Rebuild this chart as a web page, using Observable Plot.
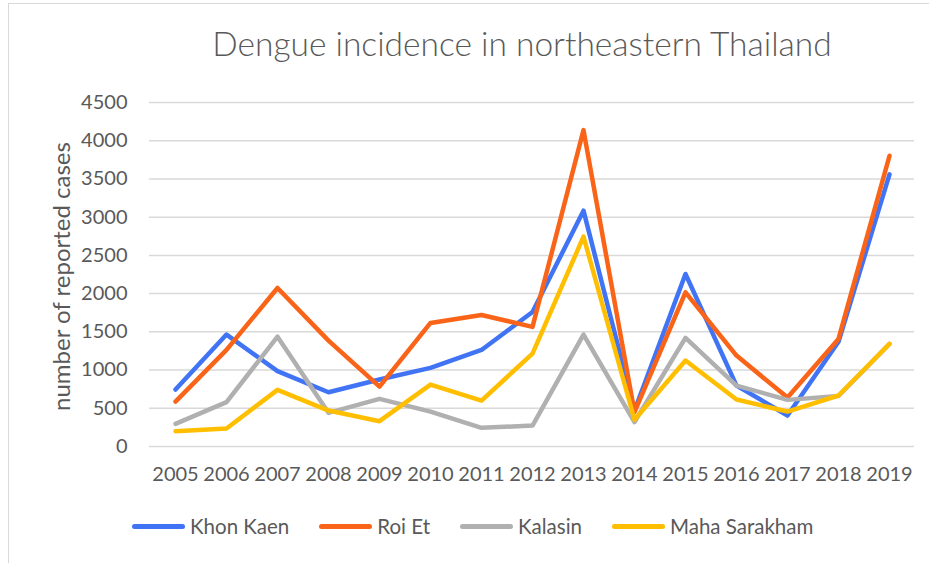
<!DOCTYPE html>
<html>
<head>
<meta charset="utf-8">
<script src="https://cdn.jsdelivr.net/npm/d3@7"></script>
<script src="https://cdn.jsdelivr.net/npm/@observablehq/plot@0.6"></script>
<style>
  html, body { margin: 0; padding: 0; background: #fff; }
  #chart { position: relative; width: 929px; height: 563px; overflow: hidden; font-family: Lato, "Open Sans", sans-serif; color: #595959; }
  #frame { position: absolute; left: 8px; top: 3px; width: 940px; height: 600px; border: 1px solid #d9d9d9; box-sizing: border-box; }
  #title { position: absolute; left: 0; width: 1044px; top: 23px; text-align: center; font-size: 33.5px; font-weight: 300; line-height: 40px; color: #595959; }
  #plot { position: absolute; left: 0; top: 80px; }
  #legend { position: absolute; left: 132px; top: 514px; display: flex; align-items: center; gap: 30px; font-size: 20.5px; color: #595959; }
  .item { display: flex; align-items: center; gap: 5px; }
  .sw { width: 53px; height: 5px; border-radius: 3px; }
</style>
</head>
<body>
<div id="chart">
  <div id="frame"></div>
  <div id="title">Dengue incidence in northeastern Thailand</div>
  <div id="plot"></div>
  <div id="legend"></div>
</div>
<script>
const years = [2005, 2006, 2007, 2008, 2009, 2010, 2011, 2012, 2013, 2014, 2015, 2016, 2017, 2018, 2019];
const seriesNames = ["Khon Kaen", "Roi Et", "Kalasin", "Maha Sarakham"];
const khonKaen     = [745, 1464, 985, 710, 876, 1028, 1263, 1760, 3085, 470, 2257, 797, 405, 1370, 3560];
const roiEt        = [588, 1264, 2074, 1385, 784, 1616, 1721, 1565, 4139, 450, 2017, 1189, 640, 1407, 3803];
const kalasin      = [296, 580, 1437, 440, 623, 457, 244, 274, 1464, 320, 1421, 797, 610, 660, 1342];
const mahaSarakham = [200, 235, 741, 470, 331, 810, 601, 1215, 2745, 350, 1124, 614, 457, 667, 1342];
const colors = ["#4174f5", "#fa6418", "#b0b0b0", "#ffbf00"];
const yTicks = [0, 500, 1000, 1500, 2000, 2500, 3000, 3500, 4000, 4500];
const yTitle = "number of reported cases";

const allSeries = [khonKaen, roiEt, kalasin, mahaSarakham];
const data = [];
seriesNames.forEach((name, i) => {
  years.forEach((yr, j) => data.push({series: name, year: String(yr), value: allSeries[i][j]}));
});

const plot = Plot.plot({
  width: 929,
  height: 410,
  marginLeft: 149,
  marginRight: 15,
  marginTop: 22,
  marginBottom: 44,
  style: { fontFamily: "Lato, 'Open Sans', sans-serif", fontSize: "20px", color: "#595959", background: "transparent" },
  x: { type: "point", domain: years.map(String), padding: 0.5, label: null },
  y: { domain: [0, 4500], label: null },
  color: { domain: seriesNames, range: colors },
  marks: [
    Plot.ruleY(yTicks, { stroke: "#d9d9d9", strokeWidth: 1.5 }),
    Plot.axisY({ ticks: yTicks, tickSize: 0, tickPadding: 22, tickFormat: d => String(d), fontSize: 20, label: null }),
    Plot.axisX({ tickSize: 0, tickPadding: 20, fontSize: 20, label: null }),
    Plot.text([yTitle], { text: d => d, frameAnchor: "left", textAnchor: "middle", lineAnchor: "middle",
                          rotate: -90, dx: -87, dy: 2, fontSize: 24, fill: "#595959" }),
    Plot.line(data, { x: "year", y: "value", z: "series", stroke: "series", strokeWidth: 4.5,
                      strokeLinecap: "round", strokeLinejoin: "round" })
  ]
});
document.getElementById("plot").appendChild(plot);

const legend = document.getElementById("legend");
seriesNames.forEach((name, i) => {
  const item = document.createElement("div");
  item.className = "item";
  const sw = document.createElement("div");
  sw.className = "sw";
  sw.style.background = colors[i];
  const t = document.createElement("span");
  t.textContent = name;
  item.appendChild(sw);
  item.appendChild(t);
  legend.appendChild(item);
});
</script>
</body>
</html>
